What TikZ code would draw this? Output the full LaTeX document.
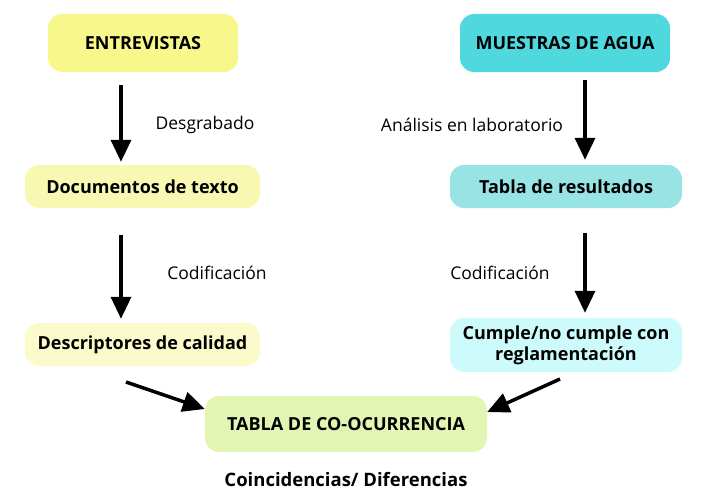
\documentclass[tikz,border=0pt]{standalone}
\usepackage{fontspec}
\setmainfont{Open Sans}
\usetikzlibrary{arrows.meta}
\definecolor{cA}{HTML}{F7F78C}
\definecolor{cB}{HTML}{4FD9DE}
\definecolor{cC}{HTML}{F8F8B2}
\definecolor{cD}{HTML}{98E3E3}
\definecolor{cE}{HTML}{FAFACB}
\definecolor{cF}{HTML}{CDFBFB}
\definecolor{cG}{HTML}{E2F5B3}
\begin{document}
\begin{tikzpicture}[x=1pt,y=-1pt,
  box/.style={rounded corners=14pt,inner sep=0pt,align=center,font=\bfseries\fontsize{18}{21}\selectfont},
  lab/.style={font=\fontsize{17.5}{20}\selectfont},
  arr/.style={-{Triangle[length=22pt,width=20pt]},line width=3.5pt}]
\useasboundingbox (0,0) rectangle (709,503);
\node[box,fill=cA,minimum width=190pt,minimum height=58pt] (ent) at (143,43) {ENTREVISTAS};
\node[box,fill=cB,minimum width=210pt,minimum height=58pt] (mue) at (565,43) {MUESTRAS DE AGUA};
\node[box,fill=cC,minimum width=235pt,minimum height=43pt] (doc) at (142.5,186.5) {Documentos de texto};
\node[box,fill=cD,minimum width=232pt,minimum height=43pt] (tab) at (566,186.5) {Tabla de resultados};
\node[box,fill=cE,minimum width=235pt,minimum height=43pt] (des) at (142.5,344.5) {Descriptores de calidad};
\node[box,fill=cF,minimum width=232pt,minimum height=54pt] (cum) at (566,345) {Cumple/no cumple con\\reglamentación};
\node[box,fill=cG,minimum width=282pt,minimum height=56pt] (co) at (346,424) {TABLA DE CO-OCURRENCIA};
\node[font=\bfseries\fontsize{18.5}{21}\selectfont] (coin) at (346,480) {Coincidencias/ Diferencias};
\node[lab] (l1) at (205,125) {Desgrabado};
\node[lab] (l2) at (472,125) {Análisis en laboratorio};
\node[lab] (l3) at (217,273) {Codificación};
\node[lab] (l4) at (500,273) {Codificación};
\draw[arr,shorten <=13pt,shorten >=3pt] (ent.south -| 121,0) -- (doc.north -| 121,0);
\draw[arr,shorten <=27pt,shorten >=4pt] (doc.south -| 121,0) -- (des.north -| 121,0);
\draw[arr,shorten <=8pt,shorten >=5pt] (mue.south -| 585,0) -- (tab.north -| 585,0);
\draw[arr,shorten <=25pt,shorten >=5pt] (tab.south -| 585,0) -- (cum.north -| 585,0);
\coordinate (d1) at (126,382);
\coordinate (d2) at (560,379);
\draw[arr] (d1) -- (co.west |- 0,409);
\draw[arr] (d2) -- (co.east |- 0,412);
\end{tikzpicture}
\end{document}
